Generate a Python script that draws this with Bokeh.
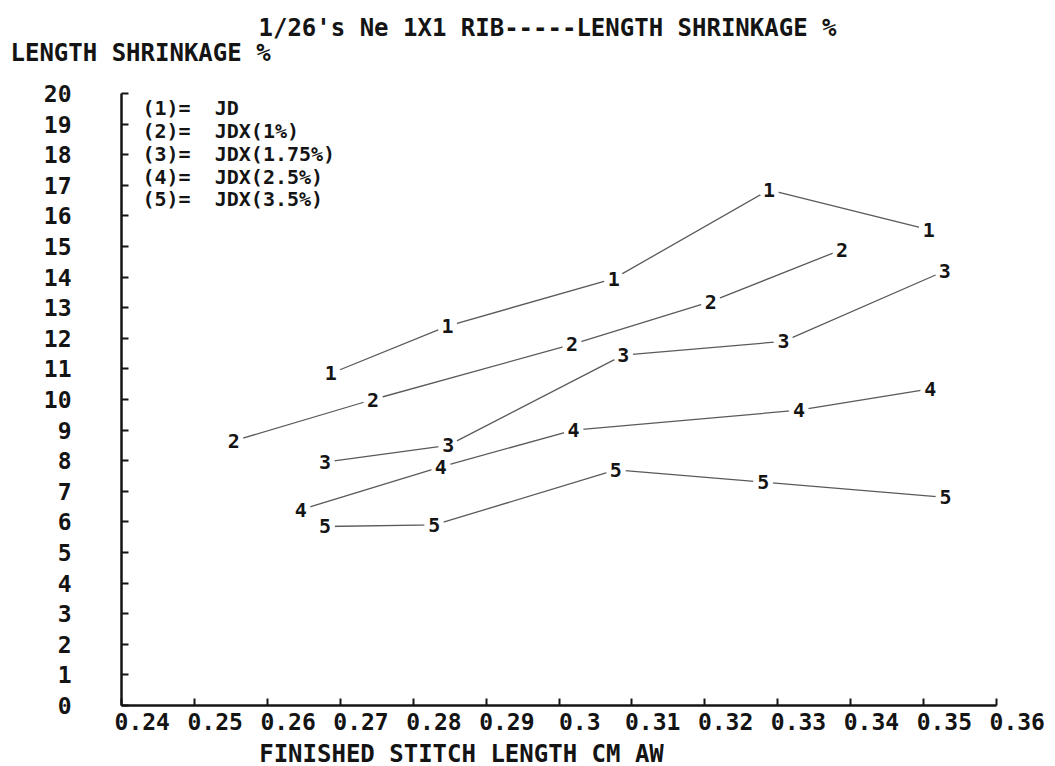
from bokeh.plotting import figure
from bokeh.models import Range1d, Label, FixedTicker
from bokeh.core.properties import value
from bokeh.embed import file_html
from bokeh.resources import INLINE

# ---------------- data ----------------
title_text = "1/26's Ne 1X1 RIB-----LENGTH SHRINKAGE %"
y_title_text = "LENGTH SHRINKAGE %"
x_title_text = "FINISHED STITCH LENGTH CM AW"

x_ticks = [0.24, 0.25, 0.26, 0.27, 0.28, 0.29, 0.30, 0.31, 0.32, 0.33, 0.34, 0.35, 0.36]
x_tick_labels = ["0.24", "0.25", "0.26", "0.27", "0.28", "0.29", "0.3",
                 "0.31", "0.32", "0.33", "0.34", "0.35", "0.36"]
y_ticks = list(range(0, 21))

legend_lines = ["(1)=\u00a0\u00a0JD", "(2)=\u00a0\u00a0JDX(1%)", "(3)=\u00a0\u00a0JDX(1.75%)",
                "(4)=\u00a0\u00a0JDX(2.5%)", "(5)=\u00a0\u00a0JDX(3.5%)"]
series_names = ["1", "2", "3", "4", "5"]

s1_x = [0.2687, 0.2847, 0.3075, 0.3288, 0.3507]
s1_y = [10.85, 12.40, 13.95, 16.85, 15.55]
s2_x = [0.2554, 0.2745, 0.3018, 0.3208, 0.3388]
s2_y = [8.65, 10.0, 11.8, 13.2, 14.9]
s3_x = [0.2679, 0.2848, 0.3088, 0.3308, 0.3529]
s3_y = [7.95, 8.5, 11.45, 11.9, 14.2]
s4_x = [0.2646, 0.2838, 0.3020, 0.3329, 0.3509]
s4_y = [6.4, 7.8, 9.0, 9.65, 10.35]
s5_x = [0.2679, 0.2829, 0.3078, 0.3280, 0.3530]
s5_y = [5.85, 5.9, 7.7, 7.3, 6.8]
series_x = [s1_x, s2_x, s3_x, s4_x, s5_x]
series_y = [s1_y, s2_y, s3_y, s4_y, s5_y]

# ---------------- layout ----------------
# The plotting frame fills the whole page; the axes are pinned at x=0.24 / y=0.
W, H = 1055, 766
AX_LEFT_PX, AX_RIGHT_PX = 121, 996     # page x of 0.24 and 0.36
AX_BOTTOM_PX, AX_TOP_PX = 705, 93      # page y of 0 and 20
X0, X1, Y0, Y1 = 0.24, 0.36, 0.0, 20.0
FONT = "DejaVu Sans Mono"
INK = "#141414"


def px_to_x(px):
    return X0 + (px - AX_LEFT_PX) * (X1 - X0) / (AX_RIGHT_PX - AX_LEFT_PX)


def py_to_y(py):
    return Y0 + (AX_BOTTOM_PX - py) * (Y1 - Y0) / (AX_BOTTOM_PX - AX_TOP_PX)


p = figure(width=W, height=H, output_backend="svg", toolbar_location=None,
           x_range=Range1d(px_to_x(0), px_to_x(W)),
           y_range=Range1d(py_to_y(H), py_to_y(0)),
           min_border_left=0, min_border_right=0,
           min_border_top=0, min_border_bottom=0)
p.outline_line_color = None
p.xgrid.visible = False
p.ygrid.visible = False
p.background_fill_color = "white"
p.border_fill_color = "white"

for ax in (p.xaxis[0], p.yaxis[0]):
    ax.axis_line_color = INK
    ax.axis_line_width = 2.5
    ax.major_tick_line_color = INK
    ax.major_tick_line_width = 2
    ax.major_tick_in = 7
    ax.major_tick_out = 0
    ax.minor_tick_line_color = None
    ax.major_label_text_font = FONT
    ax.major_label_text_font_size = "23px"
    ax.major_label_text_font_style = "bold"
    ax.major_label_text_color = INK

p.xaxis.ticker = FixedTicker(ticks=x_ticks)
# plotter labels start at the tick rather than being centred on it
p.xaxis.major_label_overrides = {t: "\u00a0\u00a0\u00a0" + l for t, l in zip(x_ticks, x_tick_labels)}
p.xaxis.major_label_standoff = 3
p.xaxis.bounds = (X0, X1)
p.xaxis.fixed_location = Y0
p.yaxis.ticker = FixedTicker(ticks=y_ticks)
p.yaxis.bounds = (Y0, Y1)
p.yaxis.fixed_location = X0
p.yaxis.major_label_standoff = 50

# series lines, masks and digit markers
for xs, ys, name in zip(series_x, series_y, series_names):
    p.line(xs, ys, line_color="#5a5a5a", line_width=1.3)
    p.scatter(xs, ys, size=20, marker="circle", fill_color="white", line_color=None)
    p.text(xs, ys, text=[name] * len(xs), text_font=value(FONT),
           text_font_size="20px", text_font_style="bold", text_color=INK,
           text_align="center", text_baseline="middle")

# legend text block
legend_py = [107, 130, 153, 176, 198]
for line, py in zip(legend_lines, legend_py):
    p.add_layout(Label(x=px_to_x(142), y=py_to_y(py), text=line,
                       text_font=FONT, text_font_size="20px", text_font_style="bold",
                       text_color=INK, text_align="left", text_baseline="middle"))

# chart title, y-axis title and x-axis title
p.add_layout(Label(x=px_to_x(547), y=py_to_y(27), text=title_text,
                   text_font=FONT, text_font_size="24px", text_font_style="bold",
                   text_color=INK, text_align="center", text_baseline="middle"))
p.add_layout(Label(x=px_to_x(10), y=py_to_y(52), text=y_title_text,
                   text_font=FONT, text_font_size="24px", text_font_style="bold",
                   text_color=INK, text_align="left", text_baseline="middle"))
p.add_layout(Label(x=px_to_x(461), y=py_to_y(753), text=x_title_text,
                   text_font=FONT, text_font_size="24px", text_font_style="bold",
                   text_color=INK, text_align="center", text_baseline="middle"))

open("out.html", "w").write(file_html(p, INLINE))
